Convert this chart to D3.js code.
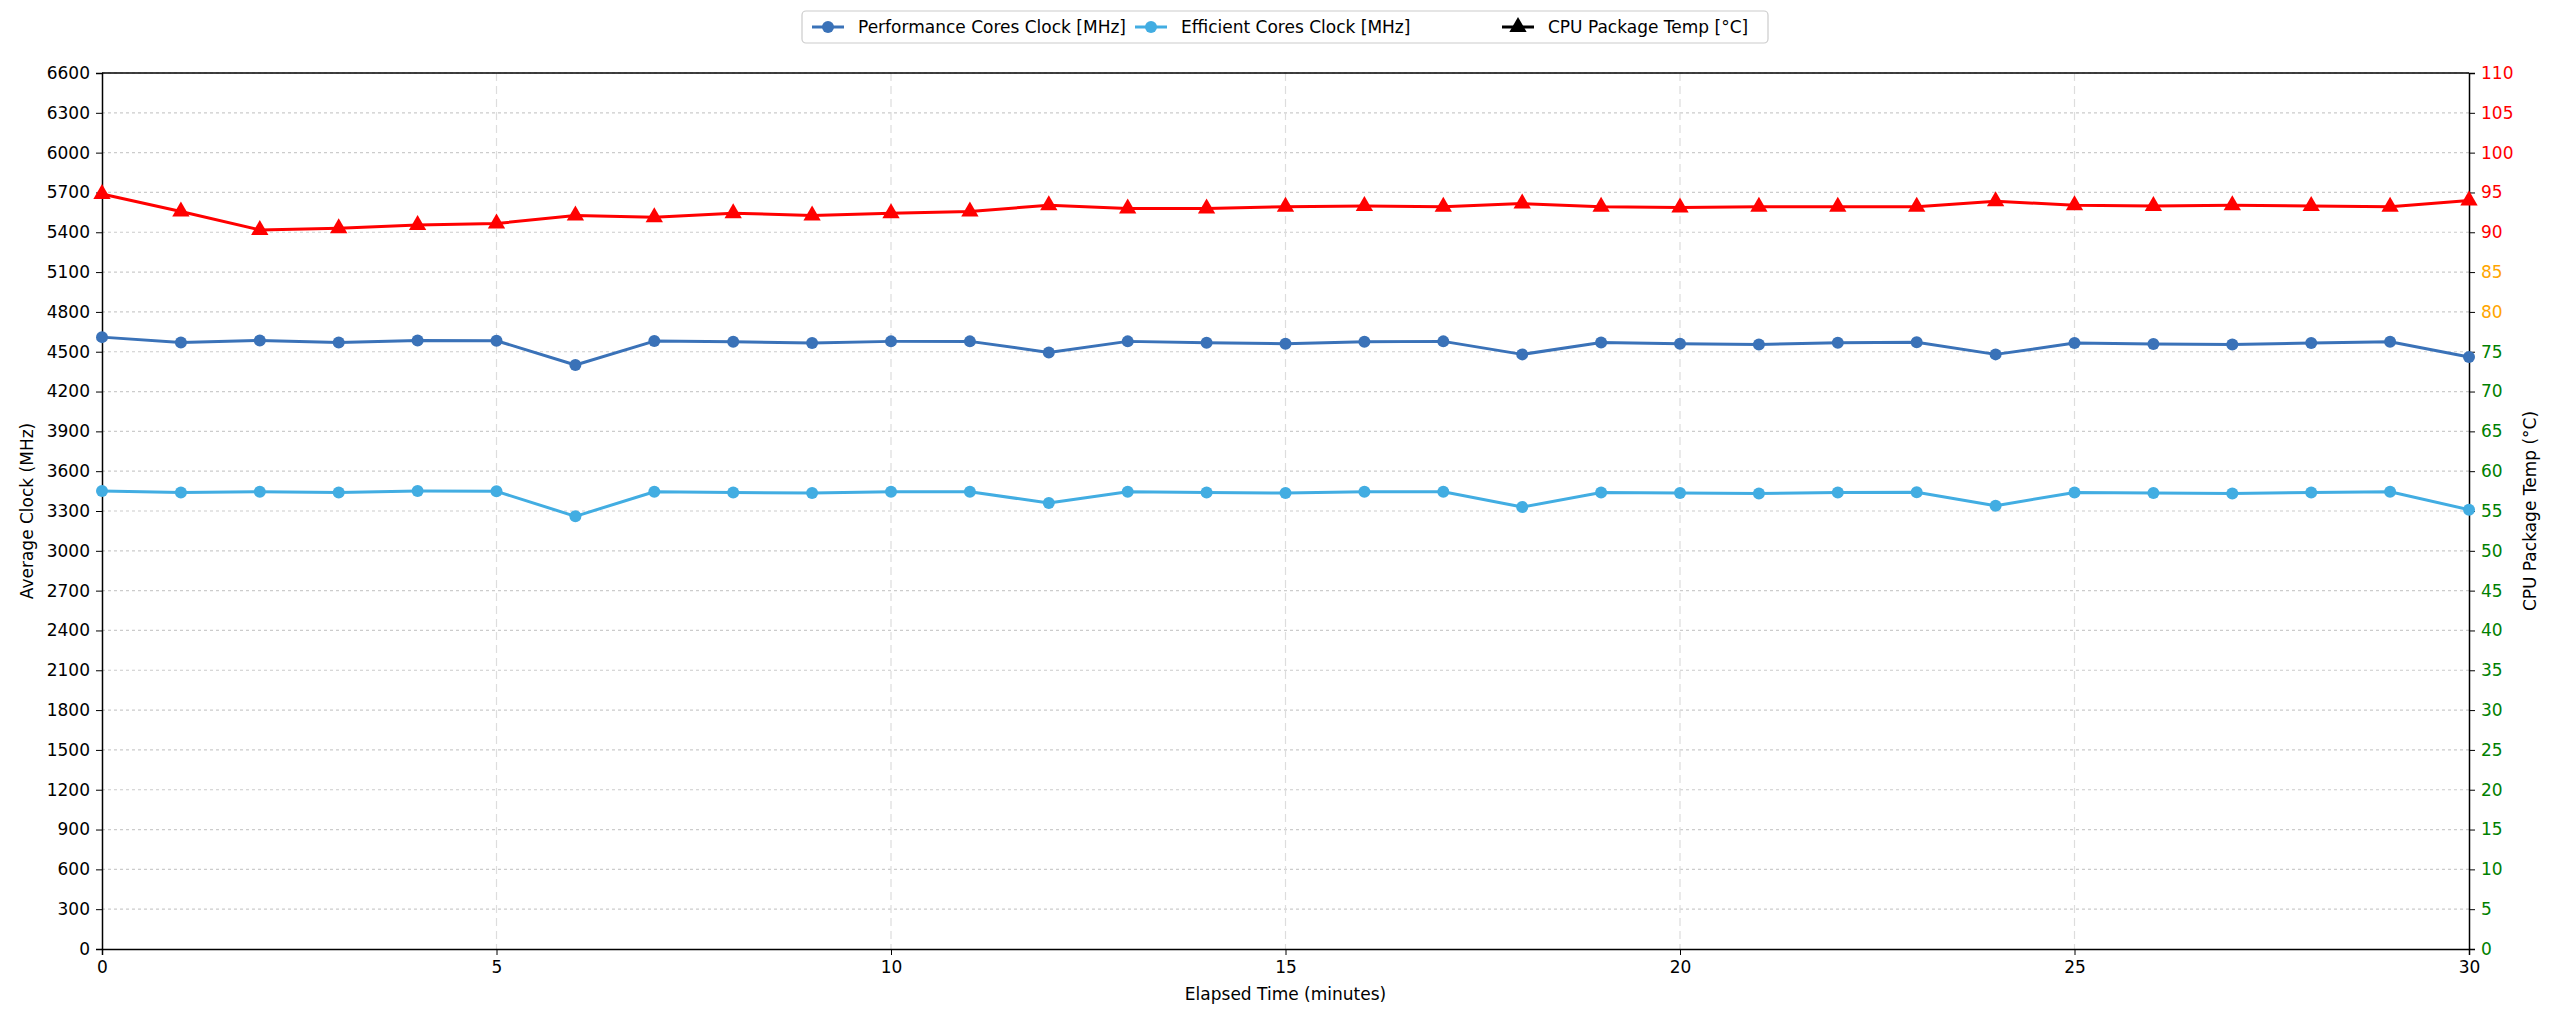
<!DOCTYPE html>
<html lang="en">
<head>
  <meta charset="UTF-8">
  <script src="https://cdn.jsdelivr.net/npm/d3@7"></script>
  <title>CPU Clock and Temp</title>
  <style>
    body { margin: 0; background: #fff; }
    text { font-family: "DejaVu Sans", sans-serif; }
  </style>
</head>
<body>
  <script>
    const minutes = d3.range(0, 31)
    const perfClock = [4610,4570,4585,4570,4585,4583,4400,4580,4575,4565,4578,4578,4495,4578,4568,4560,4575,4578,4480,4570,4560,4555,4568,4572,4480,4565,4558,4555,4565,4575,4460]
    const effClock = [3450,3440,3445,3440,3450,3448,3260,3445,3440,3435,3445,3445,3360,3445,3440,3435,3445,3445,3330,3440,3435,3432,3440,3442,3340,3440,3435,3432,3440,3445,3310]
    const cpuTemp = [94.8,92.6,90.3,90.5,90.9,91.1,92.1,91.9,92.4,92.1,92.4,92.6,93.4,93.0,93.0,93.2,93.3,93.2,93.6,93.2,93.1,93.2,93.2,93.2,93.9,93.4,93.3,93.4,93.3,93.2,94.0]
    const clockTicks = d3.range(0, 6601, 300)
    const tempTicks = d3.range(0, 111, 5)
    const xTicks = [0, 5, 10, 15, 20, 25, 30]

    const W = 2560, H = 1024
    const margin = ({top: 73, right: 91, bottom: 75, left: 102})

    const svg = d3.select('body').append('svg')
        .attr('width', W)
        .attr('height', H)

    const x = d3.scaleLinear().domain([0, 30]).range([margin.left, W - margin.right])
    const y = d3.scaleLinear().domain([0, 6600]).range([H - margin.bottom, margin.top])
    const y2 = d3.scaleLinear().domain([0, 110]).range([H - margin.bottom, margin.top])

    const tempColor = t => t >= 90 ? 'red' : (t >= 80 ? 'orange' : 'green')

    // grid
    svg.append('g').selectAll('line').data(clockTicks.slice(1)).join('line')
        .attr('x1', margin.left).attr('x2', W - margin.right)
        .attr('y1', d => y(d)).attr('y2', d => y(d))
        .attr('stroke', '#ccc').attr('stroke-width', 1.2).attr('stroke-dasharray', '3,3')
    svg.append('g').selectAll('line').data(xTicks.slice(1, -1)).join('line')
        .attr('x1', d => x(d)).attr('x2', d => x(d))
        .attr('y1', margin.top).attr('y2', H - margin.bottom)
        .attr('stroke', '#ddd').attr('stroke-width', 1.2).attr('stroke-dasharray', '8,5')

    // axes
    const fs = '17px'
    svg.append('g')
        .attr('transform', `translate(0,${H - margin.bottom})`)
        .call(d3.axisBottom(x).tickValues(xTicks).tickSize(6).tickPadding(6))
        .call(g => g.selectAll('text').attr('font-size', fs).attr('fill', '#000'))
        .call(g => g.select('.domain').attr('stroke-width', 1.5))
    svg.append('g')
        .attr('transform', `translate(${margin.left},0)`)
        .call(d3.axisLeft(y).tickValues(clockTicks).tickFormat(d3.format('d')).tickSize(6).tickPadding(6))
        .call(g => g.selectAll('text').attr('font-size', fs).attr('fill', '#000'))
        .call(g => g.select('.domain').attr('stroke-width', 1.5))
    svg.append('g')
        .attr('transform', `translate(${W - margin.right},0)`)
        .call(d3.axisRight(y2).tickValues(tempTicks).tickFormat(d3.format('d')).tickSize(6).tickPadding(6))
        .call(g => g.selectAll('text').attr('font-size', fs).attr('fill', d => tempColor(d)))
        .call(g => g.select('.domain').attr('stroke-width', 1.5))
    svg.append('line')
        .attr('x1', margin.left).attr('x2', W - margin.right)
        .attr('y1', margin.top).attr('y2', margin.top)
        .attr('stroke', '#000').attr('stroke-width', 1.5)

    svg.append('text')
        .attr('x', (margin.left + W - margin.right) / 2).attr('y', H - 24)
        .attr('text-anchor', 'middle').attr('font-size', fs)
        .text('Elapsed Time (minutes)')
    svg.append('text')
        .attr('transform', `translate(33,${(margin.top + H - margin.bottom) / 2}) rotate(-90)`)
        .attr('text-anchor', 'middle').attr('font-size', fs)
        .text('Average Clock (MHz)')
    svg.append('text')
        .attr('transform', `translate(2536,${(margin.top + H - margin.bottom) / 2}) rotate(-90)`)
        .attr('text-anchor', 'middle').attr('font-size', fs)
        .text('CPU Package Temp (°C)')

    // series
    const series = [
      {name: 'Performance Cores Clock [MHz]', values: perfClock, scale: y, color: '#3a72b8', marker: 'circle', legendColor: '#3a72b8'},
      {name: 'Efficient Cores Clock [MHz]', values: effClock, scale: y, color: '#42ade2', marker: 'circle', legendColor: '#42ade2'},
      {name: 'CPU Package Temp [°C]', values: cpuTemp, scale: y2, color: 'red', marker: 'triangle', legendColor: '#000'}
    ]
    const tri = d3.symbol().type(d3.symbolTriangle).size(130)

    series.forEach(s => {
      const line = d3.line().x((d, i) => x(minutes[i])).y(d => s.scale(d))
      svg.append('path').datum(s.values)
          .attr('fill', 'none').attr('stroke', s.color).attr('stroke-width', 3)
          .attr('stroke-linejoin', 'round').attr('d', line)
      const g = svg.append('g').attr('fill', s.color)
      if (s.marker === 'circle') {
        g.selectAll('circle').data(s.values).join('circle')
            .attr('cx', (d, i) => x(minutes[i])).attr('cy', d => s.scale(d)).attr('r', 6)
      } else {
        g.selectAll('path').data(s.values).join('path')
            .attr('transform', (d, i) => `translate(${x(minutes[i])},${s.scale(d)})`).attr('d', tri)
      }
    })

    // legend
    const lg = svg.append('g')
    lg.append('rect').attr('x', 802).attr('y', 11).attr('width', 966).attr('height', 32)
        .attr('rx', 4).attr('fill', '#fff').attr('stroke', '#ccc').attr('stroke-width', 1.2)
    const offsets = [812, 1135, 1502]
    series.forEach((s, i) => {
      const lx = offsets[i], ly = 27
      lg.append('line').attr('x1', lx).attr('x2', lx + 32).attr('y1', ly).attr('y2', ly)
          .attr('stroke', s.legendColor).attr('stroke-width', 3)
      if (s.marker === 'circle') {
        lg.append('circle').attr('cx', lx + 16).attr('cy', ly).attr('r', 6).attr('fill', s.legendColor)
      } else {
        lg.append('path').attr('transform', `translate(${lx + 16},${ly})`).attr('d', tri).attr('fill', s.legendColor)
      }
      lg.append('text').attr('x', lx + 46).attr('y', ly + 6).attr('font-size', fs).text(s.name)
    })
  </script>
</body>
</html>
